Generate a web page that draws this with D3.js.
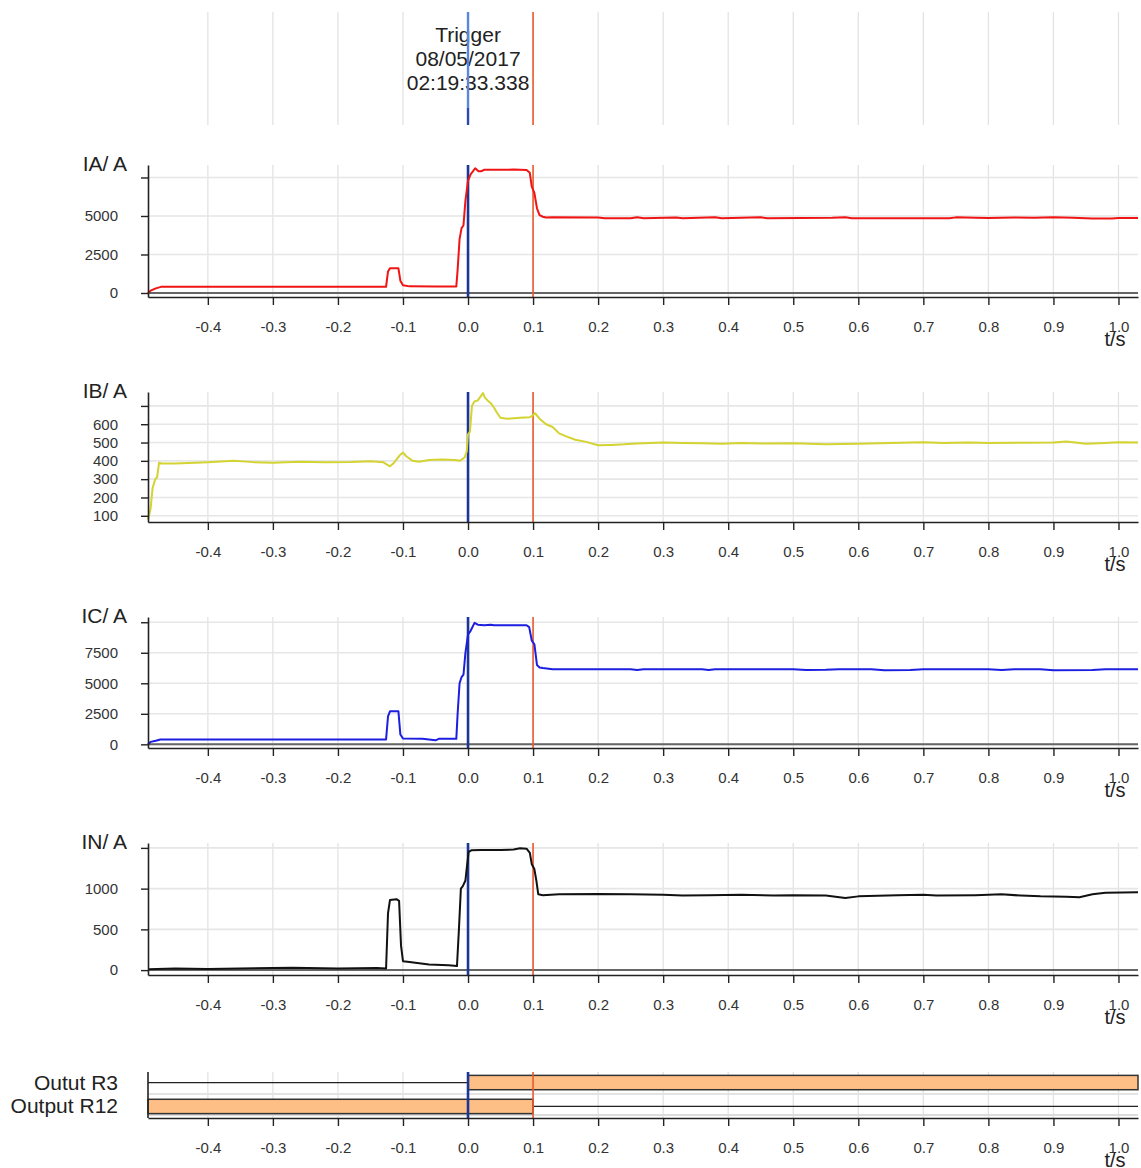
<!DOCTYPE html>
<html>
<head>
<meta charset="utf-8">
<script src="https://cdn.jsdelivr.net/npm/d3@7"></script>
<style>
  body { margin: 0; background: #fff; }
  text { font-family: "Liberation Sans", Arial, sans-serif; }
</style>
</head>
<body>
<svg id="chart" width="1141" height="1168"></svg>
<script>
// fault record: analog channels + two binary outputs

const tTicks  = [-0.4, -0.3, -0.2, -0.1, 0.0, 0.1, 0.2, 0.3, 0.4, 0.5, 0.6, 0.7, 0.8, 0.9, 1.0];
const tLabels = ["-0.4","-0.3","-0.2","-0.1","0.0","0.1","0.2","0.3","0.4","0.5","0.6","0.7","0.8","0.9","1.0"];
const tMin = -0.492, tMax = 1.03;
const trigT = 0.0, tripT = 0.1;
const trigText = ["Trigger", "08/05/2017", "02:19:33.338"];

const iaTicks = [0, 2500, 5000, 7500];
const iaLabels = ["0", "2500", "5000", ""];
const ibTicks = [100, 200, 300, 400, 500, 600, 700];
const ibLabels = ["100", "200", "300", "400", "500", "600", ""];
const icTicks = [0, 2500, 5000, 7500, 10000];
const icLabels = ["0", "2500", "5000", "7500", ""];
const inTicks = [0, 500, 1000, 1500];
const inLabels = ["0", "500", "1000", ""];

// [t, value]
const iaPts = [[-0.492,0],[-0.488,150],[-0.48,300],[-0.472,400],[-0.3,400],[-0.126,400],
  [-0.123,1400],[-0.12,1600],[-0.107,1600],[-0.104,800],[-0.1,500],[-0.09,430],[-0.05,420],
  [-0.018,420],[-0.016,1500],[-0.013,3500],[-0.01,4200],[-0.007,4400],[-0.004,6000],[0.0,7300],
  [0.004,7700],[0.011,8100],[0.016,7900],[0.02,7900],[0.025,8000],[0.06,8000],[0.07,8020],
  [0.09,7980],[0.095,7800],[0.098,6900],[0.102,6500],[0.106,5500],[0.11,5050],[0.115,4950],
  [0.12,4900],[0.13,4920],[0.2,4900],[0.21,4860],[0.25,4860],[0.26,4920],[0.27,4860],
  [0.32,4900],[0.33,4860],[0.38,4920],[0.39,4860],[0.45,4920],[0.46,4860],[0.56,4880],
  [0.58,4920],[0.59,4860],[0.74,4860],[0.75,4910],[0.78,4880],[0.8,4870],[0.84,4900],
  [0.87,4880],[0.9,4910],[0.93,4880],[0.96,4830],[0.99,4830],[1.0,4870],[1.03,4870]];

const ibPts = [[-0.492,80],[-0.488,140],[-0.485,250],[-0.481,300],[-0.478,310],[-0.475,390],
  [-0.47,385],[-0.45,385],[-0.4,392],[-0.36,400],[-0.33,393],[-0.3,390],[-0.26,395],[-0.22,392],
  [-0.18,394],[-0.15,398],[-0.13,392],[-0.12,370],[-0.115,385],[-0.105,430],[-0.1,445],
  [-0.095,425],[-0.085,400],[-0.075,395],[-0.06,405],[-0.04,408],[-0.02,405],[-0.012,400],
  [-0.005,420],[-0.002,450],[0.0,545],[0.003,560],[0.006,700],[0.01,725],[0.015,730],
  [0.02,755],[0.023,770],[0.026,745],[0.03,730],[0.035,715],[0.04,690],[0.045,660],[0.05,635],
  [0.06,630],[0.08,635],[0.095,638],[0.1,650],[0.103,660],[0.11,630],[0.12,600],[0.13,585],
  [0.14,550],[0.15,535],[0.165,515],[0.18,505],[0.2,485],[0.22,487],[0.24,490],[0.26,495],
  [0.3,500],[0.33,497],[0.36,496],[0.39,493],[0.42,498],[0.45,495],[0.5,496],[0.55,490],
  [0.6,493],[0.65,498],[0.7,502],[0.73,498],[0.77,500],[0.8,498],[0.85,499],[0.9,500],
  [0.92,506],[0.95,494],[0.98,498],[1.0,502],[1.03,500]];

const icPts = [[-0.492,0],[-0.488,200],[-0.48,300],[-0.473,400],[-0.3,400],[-0.126,400],
  [-0.123,2300],[-0.12,2700],[-0.107,2700],[-0.104,800],[-0.1,480],[-0.07,450],[-0.05,330],
  [-0.045,450],[-0.018,450],[-0.016,2500],[-0.013,5000],[-0.01,5500],[-0.007,5700],
  [-0.004,7500],[0.0,9000],[0.004,9300],[0.01,9950],[0.015,9800],[0.025,9750],[0.035,9800],
  [0.04,9750],[0.09,9750],[0.094,9600],[0.098,8500],[0.102,8200],[0.106,6500],[0.11,6300],
  [0.115,6250],[0.13,6150],[0.2,6150],[0.25,6150],[0.26,6080],[0.27,6150],[0.36,6150],
  [0.37,6090],[0.38,6150],[0.5,6150],[0.52,6080],[0.55,6100],[0.57,6150],[0.62,6150],
  [0.64,6060],[0.68,6080],[0.7,6150],[0.8,6150],[0.82,6090],[0.84,6150],[0.88,6150],
  [0.9,6070],[0.96,6080],[0.98,6150],[1.03,6150]];

const inPts = [[-0.492,10],[-0.45,20],[-0.4,15],[-0.3,25],[-0.27,30],[-0.2,20],[-0.14,25],
  [-0.126,20],[-0.123,700],[-0.12,860],[-0.11,870],[-0.106,850],[-0.103,300],[-0.1,110],
  [-0.09,100],[-0.06,70],[-0.03,60],[-0.017,50],[-0.014,500],[-0.011,1000],[-0.008,1030],
  [-0.004,1100],[-0.002,1250],[0.001,1450],[0.005,1470],[0.02,1475],[0.05,1475],[0.07,1480],
  [0.08,1495],[0.09,1490],[0.095,1440],[0.098,1300],[0.102,1240],[0.105,1100],[0.108,930],
  [0.115,920],[0.14,930],[0.2,935],[0.25,930],[0.3,925],[0.33,915],[0.37,920],[0.42,925],
  [0.47,915],[0.5,920],[0.55,915],[0.58,885],[0.6,905],[0.66,920],[0.7,925],[0.72,915],
  [0.78,920],[0.82,930],[0.85,915],[0.88,905],[0.92,900],[0.94,895],[0.96,930],[0.98,950],
  [1.03,955]];

// binary outputs: [t, state]
const digNames = ["Outut R3", "Output R12"];
const r3States = [[-0.492,0],[0.0,1]];
const r12States = [[-0.492,1],[0.1,0]];

const svg = d3.select("#chart");
const x = d3.scaleLinear().domain([tMin, tMax]).range([148, 1138]);

function vGrid(top, bottom) {
  svg.append("g").selectAll("line").data(tTicks).join("line")
    .attr("x1", d => x(d)).attr("x2", d => x(d))
    .attr("y1", top).attr("y2", bottom)
    .attr("stroke", "#e3e3e3").attr("stroke-width", 1.3);
}

function markers(top, bottom, blue) {
  svg.append("line").attr("x1", x(tripT)).attr("x2", x(tripT)).attr("y1", top).attr("y2", bottom)
    .attr("stroke", "#ec5a2e").attr("stroke-width", 1.6);
  svg.append("line").attr("x1", x(trigT)).attr("x2", x(trigT)).attr("y1", top).attr("y2", bottom)
    .attr("stroke", blue).attr("stroke-width", 2.6);
}

function xAxis(bottom) {
  const g = svg.append("g").attr("transform", "translate(0," + bottom + ")")
    .call(d3.axisBottom(x).tickValues(tTicks).tickFormat((d, i) => tLabels[i])
      .tickSize(8).tickSizeOuter(0).tickPadding(16));
  g.select(".domain").attr("stroke", "#222").attr("stroke-width", 1.6);
  g.selectAll(".tick line").attr("stroke", "#222").attr("stroke-width", 1.4);
  g.selectAll("text").attr("font-size", 15).attr("fill", "#333")
    .attr("font-family", "Liberation Sans, Arial, sans-serif");
  svg.append("text").attr("x", 1115).attr("y", bottom + 49).attr("text-anchor", "middle")
    .attr("font-size", 20).attr("fill", "#222").text("t/s");
}

function analog(title, pts, ticks, labels, dom, top, bottom, color) {
  const y = d3.scaleLinear().domain(dom).range([bottom, top]);
  vGrid(top, bottom);
  svg.append("g").selectAll("line").data(ticks).join("line")
    .attr("x1", 148).attr("x2", 1138).attr("y1", d => y(d)).attr("y2", d => y(d))
    .attr("stroke", "#e6e6e6").attr("stroke-width", 1.6);
  if (dom[0] < 0) {
    svg.append("line").attr("x1", 148).attr("x2", 1138).attr("y1", y(0)).attr("y2", y(0))
      .attr("stroke", "#666").attr("stroke-width", 2);
  }
  markers(top, bottom, "#1c3596");
  svg.append("path").datum(pts)
    .attr("d", d3.line().x(d => x(d[0])).y(d => y(d[1])))
    .attr("fill", "none").attr("stroke", color).attr("stroke-width", 2)
    .attr("stroke-linejoin", "round");
  const ya = svg.append("g").attr("transform", "translate(148,0)")
    .call(d3.axisLeft(y).tickValues(ticks).tickFormat((d, i) => labels[i])
      .tickSize(7).tickSizeOuter(0).tickPadding(23));
  ya.select(".domain").attr("stroke", "#222").attr("stroke-width", 1.6);
  ya.selectAll(".tick line").attr("stroke", "#222").attr("stroke-width", 1.4);
  ya.selectAll("text").attr("font-size", 15).attr("fill", "#333")
    .attr("font-family", "Liberation Sans, Arial, sans-serif");
  xAxis(bottom);
  svg.append("text").attr("x", 127).attr("y", top + 6).attr("text-anchor", "end")
    .attr("font-size", 21).attr("fill", "#222").text(title);
}

// top strip with trigger stamp
vGrid(12, 125);
svg.append("line").attr("x1", x(tripT)).attr("x2", x(tripT)).attr("y1", 12).attr("y2", 125)
  .attr("stroke", "#ec5a2e").attr("stroke-width", 1.6);
trigText.forEach((s, i) => {
  svg.append("text").attr("x", x(trigT)).attr("y", 42 + i * 24).attr("text-anchor", "middle")
    .attr("font-size", 21).attr("fill", "#222").text(s);
});
svg.append("line").attr("x1", x(trigT)).attr("x2", x(trigT)).attr("y1", 12).attr("y2", 108)
  .attr("stroke", "#5a86de").attr("stroke-width", 2.4);
svg.append("line").attr("x1", x(trigT)).attr("x2", x(trigT)).attr("y1", 108).attr("y2", 125)
  .attr("stroke", "#2b48b0").attr("stroke-width", 2.4);

analog("IA/ A", iaPts, iaTicks, iaLabels, [-260, 8310], 165, 297, "#f01414");
analog("IB/ A", ibPts, ibTicks, ibLabels, [66, 776], 392, 522, "#d3d332");
analog("IC/ A", icPts, icTicks, icLabels, [-300, 10430], 617, 748, "#1c1ee0");
analog("IN/ A", inPts, inTicks, inLabels, [-60, 1560], 843, 975, "#111111");

// binary outputs
const dTop = 1072, dBottom = 1118;
const yb = d3.scaleBand().domain(digNames).range([1073, 1116]).paddingInner(0.4).paddingOuter(0.1);
vGrid(dTop, dBottom);
svg.append("line").attr("x1", 148).attr("x2", 1138).attr("y1", 1094).attr("y2", 1094)
  .attr("stroke", "#e3e3e3").attr("stroke-width", 2);
svg.append("line").attr("x1", 148).attr("x2", 1138).attr("y1", 1115).attr("y2", 1115)
  .attr("stroke", "#dcdcdc").attr("stroke-width", 2);

function digRow(name, states) {
  const segs = states.map((s, i) => ({
    t0: s[0], t1: i + 1 < states.length ? states[i + 1][0] : tMax, on: s[1]
  }));
  const y0 = yb(name), h = yb.bandwidth();
  segs.forEach(s => {
    if (s.on) {
      svg.append("rect").attr("x", x(s.t0)).attr("y", y0)
        .attr("width", x(s.t1) - x(s.t0)).attr("height", h)
        .attr("fill", "#fdbf86").attr("stroke", "#333").attr("stroke-width", 1.5);
    } else {
      svg.append("line").attr("x1", x(s.t0)).attr("x2", x(s.t1))
        .attr("y1", y0 + h / 2).attr("y2", y0 + h / 2)
        .attr("stroke", "#222").attr("stroke-width", 1.3);
    }
  });
  svg.append("text").attr("x", 118).attr("y", y0 + h / 2 + 7).attr("text-anchor", "end")
    .attr("font-size", 21).attr("fill", "#222").text(name);
}
digRow(digNames[0], r3States);
digRow(digNames[1], r12States);
markers(dTop, dBottom, "#1c3596");
svg.append("line").attr("x1", 148).attr("x2", 148).attr("y1", dTop).attr("y2", dBottom)
  .attr("stroke", "#222").attr("stroke-width", 1.6);
xAxis(dBottom);
</script>
</body>
</html>
